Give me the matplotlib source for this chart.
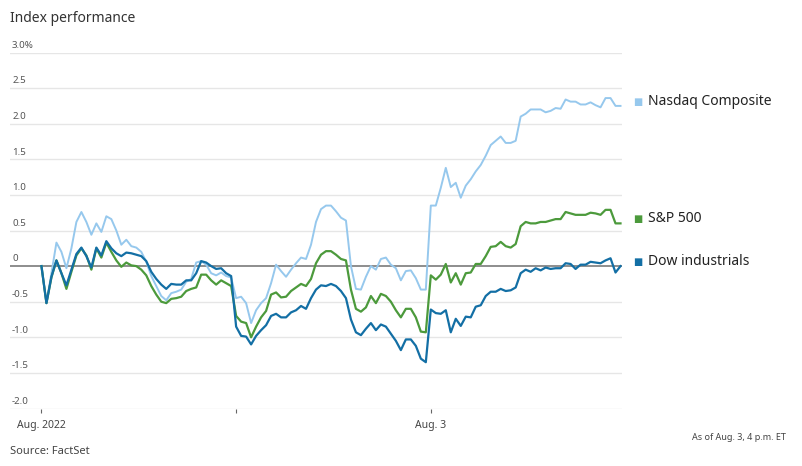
import matplotlib
matplotlib.use("Agg")
import matplotlib.pyplot as plt
import matplotlib.transforms as mtransforms

plt.rcParams['font.family'] = ['Noto Sans', 'DejaVu Sans']

# 10-minute intraday steps, Aug 1 - Aug 3 2022 (39 points per session)
nasdaq = [0.0, -0.52, -0.1, 0.33, 0.2, -0.03, 0.25, 0.62, 0.76, 0.62,
          0.44, 0.6, 0.48, 0.7, 0.66, 0.5, 0.3, 0.37, 0.28, 0.26,
          0.2, 0.06, -0.14, -0.28, -0.42, -0.48, -0.38, -0.36, -0.33, -0.22,
          -0.18, 0.05, 0.07, 0.02, -0.1, -0.13, -0.09, -0.14, -0.16,
          -0.45, -0.43, -0.52, -0.8, -0.62, -0.52, -0.45, -0.24, 0.02, -0.07,
          -0.15, -0.05, 0.04, 0.12, 0.1, 0.3, 0.62, 0.8, 0.85, 0.85,
          0.77, 0.68, 0.64, 0.0, -0.32, -0.33, -0.15, 0.0, -0.05, 0.1,
          0.12, 0.02, -0.03, -0.2, -0.07, -0.06, -0.17, -0.33, -0.33,
          0.85, 0.85, 1.1, 1.38, 1.11, 1.17, 0.96, 1.13, 1.22, 1.33,
          1.42, 1.55, 1.7, 1.76, 1.82, 1.73, 1.73, 1.76, 2.1, 2.14,
          2.2, 2.2, 2.2, 2.16, 2.18, 2.22, 2.21, 2.34, 2.31, 2.31,
          2.27, 2.27, 2.3, 2.26, 2.23, 2.36, 2.36, 2.25, 2.25]

sp500 = [0.0, -0.52, -0.16, 0.08, -0.1, -0.32, -0.08, 0.15, 0.25, 0.15,
         -0.05, 0.25, 0.12, 0.33, 0.2, 0.08, -0.01, 0.05, 0.01, 0.0,
         -0.05, -0.13, -0.28, -0.4, -0.5, -0.52, -0.46, -0.45, -0.43, -0.35,
         -0.32, -0.3, -0.12, -0.12, -0.2, -0.26, -0.2, -0.24, -0.28,
         -0.7, -0.78, -0.8, -1.0, -0.85, -0.72, -0.63, -0.4, -0.37, -0.44,
         -0.43, -0.35, -0.3, -0.25, -0.28, -0.18, 0.04, 0.16, 0.21, 0.21,
         0.16, 0.1, 0.08, -0.33, -0.6, -0.64, -0.58, -0.42, -0.52, -0.39,
         -0.42, -0.5, -0.62, -0.72, -0.6, -0.6, -0.72, -0.92, -0.93,
         -0.13, -0.19, -0.12, 0.03, -0.23, -0.1, -0.26, -0.1, -0.09, 0.03,
         0.03, 0.14, 0.27, 0.28, 0.34, 0.28, 0.26, 0.31, 0.56, 0.62,
         0.6, 0.6, 0.62, 0.62, 0.64, 0.66, 0.66, 0.76, 0.74, 0.72,
         0.72, 0.72, 0.75, 0.74, 0.72, 0.79, 0.79, 0.6, 0.6]

dow = [0.0, -0.52, -0.15, 0.08, -0.1, -0.27, -0.05, 0.17, 0.26, 0.14,
       -0.02, 0.26, 0.15, 0.35, 0.25, 0.18, 0.14, 0.19, 0.18, 0.16,
       0.14, 0.07, -0.08, -0.18, -0.26, -0.32, -0.25, -0.26, -0.26, -0.2,
       -0.2, -0.1, 0.07, 0.05, 0.0, -0.04, -0.03, -0.1, -0.14,
       -0.85, -0.98, -0.99, -1.1, -0.98, -0.9, -0.83, -0.7, -0.67, -0.72,
       -0.72, -0.65, -0.62, -0.56, -0.6, -0.45, -0.33, -0.27, -0.28, -0.25,
       -0.28, -0.35, -0.45, -0.75, -0.93, -0.97, -0.88, -0.8, -0.9, -0.82,
       -0.85, -0.95, -1.05, -1.18, -1.03, -1.03, -1.12, -1.3, -1.35,
       -0.61, -0.66, -0.67, -0.62, -0.93, -0.74, -0.84, -0.71, -0.72, -0.57,
       -0.55, -0.42, -0.36, -0.36, -0.32, -0.35, -0.34, -0.3, -0.1, -0.05,
       -0.08, -0.03, -0.06, -0.02, -0.04, -0.03, -0.03, 0.04, 0.03, -0.04,
       0.02, 0.02, 0.06, 0.05, 0.04, 0.08, 0.11, -0.09, 0.0]

series_names = ["Nasdaq Composite", "S&P 500", "Dow industrials"]
series_colors = ["#96c8ed", "#4c9a3c", "#136fa5"]
series_widths = [1.4, 1.6, 1.6]

y_ticks = [3.0, 2.5, 2.0, 1.5, 1.0, 0.5, 0.0, -0.5, -1.0, -1.5, -2.0]
y_labels = ["3.0%", "2.5", "2.0", "1.5", "1.0", "0.5", "0", "-0.5", "-1.0", "-1.5", "-2.0"]
x_ticks = [0, 39, 78]
x_labels = ["Aug. 2022", "", "Aug. 3"]

W, H = 802, 466
fig = plt.figure(figsize=(W / 100, H / 100), dpi=100)
left_px, right_px, top_px, bot_px = 10, 622, 52.5, 408.5
ax = fig.add_axes([left_px / W, 1 - bot_px / H, (right_px - left_px) / W, (bot_px - top_px) / H])

n = len(nasdaq)
x = list(range(n))
ax.set_xlim(-6.3, 116.3)
ax.set_ylim(-2.0, 3.0)

for s in ax.spines.values():
    s.set_visible(False)

for yt in y_ticks:
    if yt == 0:
        ax.axhline(0, color="#7a7a7a", lw=1.2, zorder=2)
    else:
        ax.axhline(yt, color="#e6e6e6", lw=1.0, zorder=1)

ax.set_yticks([])
ax.set_xticks(x_ticks)
ax.set_xticklabels(x_labels, fontsize=7.5, color="#444444")
ax.tick_params(axis="x", length=3, width=0.8, color="#666666", pad=5)

trans = mtransforms.blended_transform_factory(ax.transAxes, ax.transData)
for yt, lab in zip(y_ticks, y_labels):
    ax.annotate(lab, xy=(0, yt), xycoords=trans, xytext=(1.5, 2), textcoords="offset points",
                fontsize=7, color="#555555", ha="left", va="bottom")

for vals, name, col, lw in zip([nasdaq, sp500, dow], series_names, series_colors, series_widths):
    ax.plot(x, vals, color=col, lw=lw, zorder=3, solid_joinstyle="round")
    ax.annotate("\u25a0", xy=(x[-1], vals[-1]), xytext=(12.5, 2.8), textcoords="offset points",
                fontsize=7, color=col, ha="center", va="center", annotation_clip=False)
    ax.annotate(name, xy=(x[-1], vals[-1]), xytext=(20, 3.2), textcoords="offset points",
                fontsize=10, color="#222222", ha="left", va="center", annotation_clip=False)

fig.text(10 / W, 1 - 19 / H, "Index performance", fontsize=10, color="#333333", ha="left", va="center")
fig.text(10 / W, 1 - 452 / H, "Source: FactSet", fontsize=8, color="#444444", ha="left", va="center")
fig.text(786 / W, 1 - 438 / H, "As of Aug. 3, 4 p.m. ET", fontsize=6.5, color="#444444", ha="right", va="center")

fig.savefig("out.png", dpi=100, facecolor="white")
